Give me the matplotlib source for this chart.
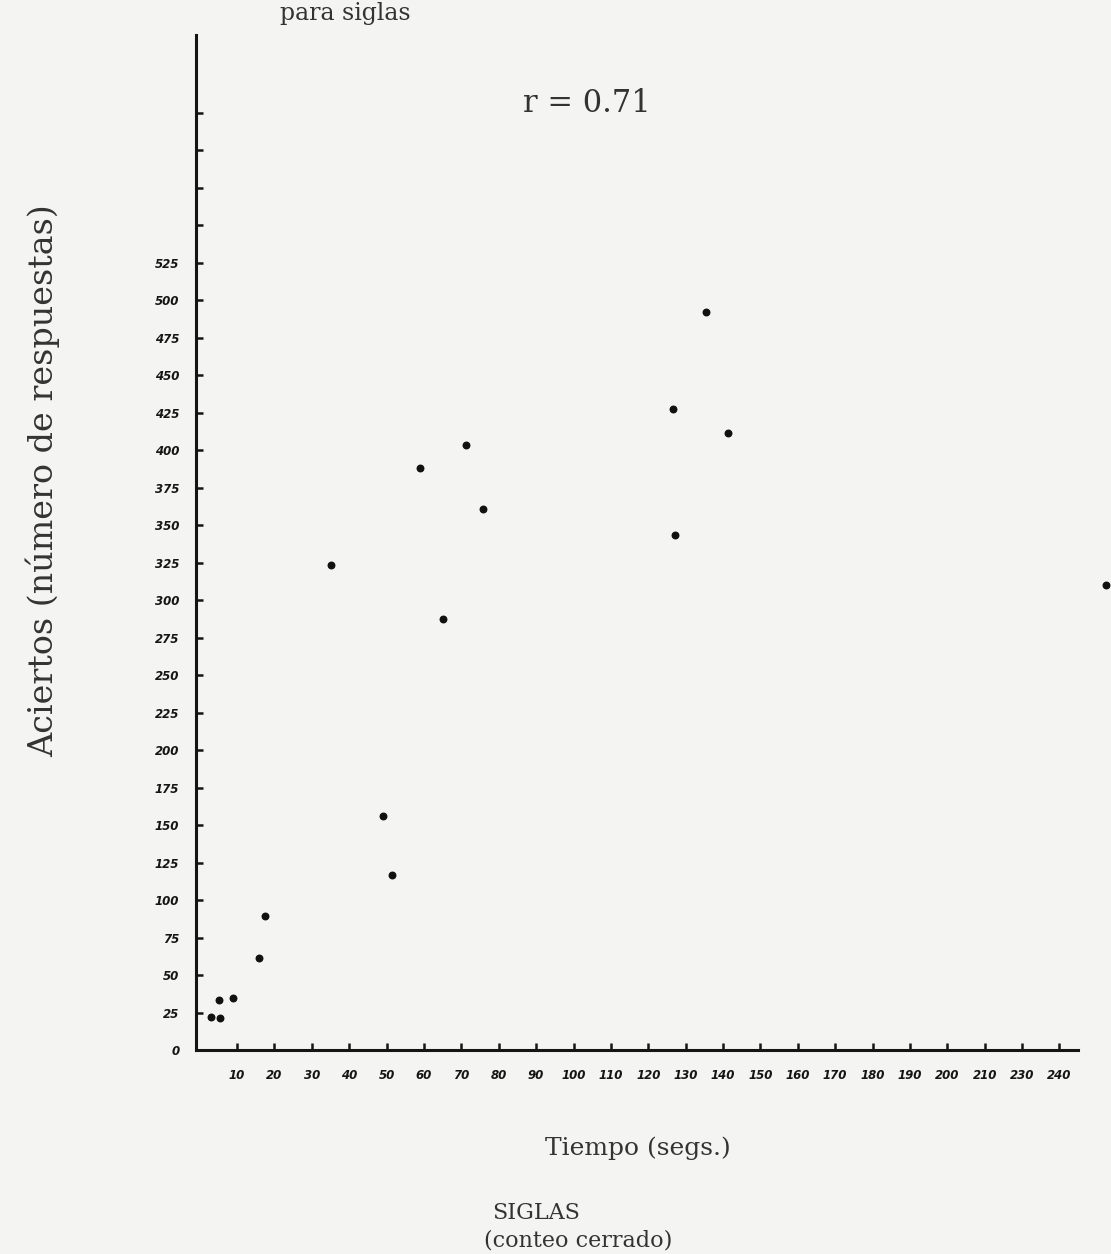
import matplotlib
matplotlib.use("Agg")
import matplotlib.pyplot as plt

# ---- data ----
tiempo = [2.9, 5.3, 5.2, 8.9, 15.8, 17.5, 35.0, 49.1, 51.4, 59.0, 65.0,
          71.2, 75.9, 126.7, 127.2, 135.5, 141.2, 242.4]
aciertos = [21.7, 21.5, 33.6, 34.6, 61.5, 89.4, 323.6, 156.4, 116.9, 387.9,
            287.3, 403.7, 360.6, 427.5, 343.4, 492.3, 411.7, 310.1]

x_ticks = list(range(10, 240, 10))
x_tick_labels = ["10", "20", "30", "40", "50", "60", "70", "80", "90", "100",
                 "110", "120", "130", "140", "150", "160", "170", "180", "190",
                 "200", "210", "230", "240"]
y_ticks = list(range(0, 650, 25))
y_tick_labels = [str(v) if v <= 525 else "" for v in y_ticks]

W, H = 1111, 1254
fig = plt.figure(figsize=(W / 100, H / 100), dpi=100)
bg = "#f4f4f2"
fig.patch.set_facecolor(bg)

left_px, right_px = 196, 1111
bottom_px, top_px = 1050, 35
ax = fig.add_axes([left_px / W, 1 - bottom_px / H,
                   (right_px - left_px) / W, (bottom_px - top_px) / H])
ax.set_facecolor(bg)
ax.set_xlim(-1, 243.8)
ax.set_ylim(0, 677)

ax.scatter(tiempo, aciertos, s=22, color="#111111", clip_on=False, zorder=3)

for s in ["top", "right"]:
    ax.spines[s].set_visible(False)
for s in ["left", "bottom"]:
    ax.spines[s].set_linewidth(2.2)
    ax.spines[s].set_color("#151515")
ax.spines["bottom"].set_bounds(-1, 235)

hand = dict(family="DejaVu Sans", weight="bold", style="italic", size=8.5)
ax.set_xticks(x_ticks)
ax.set_xticklabels(x_tick_labels, **hand)
ax.set_yticks(y_ticks)
ax.set_yticklabels(y_tick_labels, **hand)
ax.tick_params(axis="x", direction="in", length=5, width=1.8, pad=14,
               colors="#151515")
ax.tick_params(axis="y", direction="in", length=5, width=1.8, pad=12,
               colors="#151515")

serif = "DejaVu Serif"
fig.text(0.039, 0.617, "Aciertos (número de respuestas)", rotation=90,
         ha="center", va="center", family=serif, size=24, color="#333333")
fig.text(638 / W, 1 - 1148 / H, "Tiempo (segs.)", ha="center", va="center",
         family=serif, size=18, color="#333333")
fig.text(536 / W, 1 - 1213 / H, "SIGLAS", ha="center", va="center",
         family=serif, size=16, color="#333333")
fig.text(578 / W, 1 - 1240 / H, "(conteo cerrado)", ha="center", va="center",
         family=serif, size=16, color="#333333")
fig.text(587 / W, 1 - 104 / H, "r = 0.71", ha="center", va="center",
         family=serif, size=22, color="#333333")
fig.text(280 / W, 1 - 2 / H, "para siglas", ha="left", va="top",
         family=serif, size=17, color="#333333")

fig.savefig("out.png", dpi=100, facecolor=bg)
